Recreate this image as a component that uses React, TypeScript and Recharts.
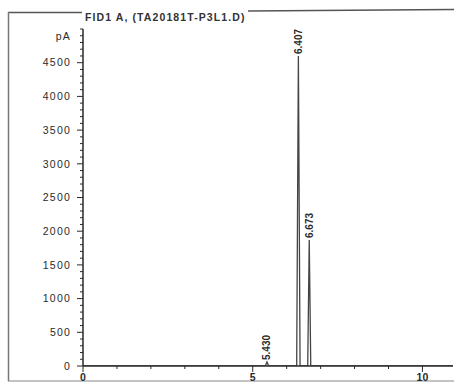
import React from 'react';
import { LineChart, Line, XAxis, YAxis } from 'recharts';

const times = [0, 5.37, 5.42, 5.47, 6.295, 6.345, 6.395, 6.62, 6.665, 6.71, 10.9];
const signal = [0, 0, 60, 0, 0, 4600, 0, 0, 1870, 0, 0];
const peakLabels = ['', '', '5.430', '', '', '6.407', '', '', '6.673', '', ''];

const xMajorTicks = [0, 5, 10];
const xTicks = [0, 1, 2, 3, 4, 5, 6, 7, 8, 9, 10];
const yMajorTicks = [0, 500, 1000, 1500, 2000, 2500, 3000, 3500, 4000, 4500];
const yUnitTick = 4900;
const yUnit = 'pA';
const title = 'FID1 A, (TA20181T-P3L1.D)';

const data = times.map((t, i) => ({ t, v: signal[i], lbl: peakLabels[i] }));
const yTicks: number[] = [];
for (let v = 0; v <= 5000; v += 100) yTicks.push(v);

const FONT = '"Liberation Sans", Arial, sans-serif';
const INK = '#2a2a2a';

const YTick = (props: any) => {
  const { x, y, payload } = props;
  const v = payload.value;
  const major = yMajorTicks.includes(v);
  let label = '';
  if (major) label = String(v);
  if (v === yUnitTick) label = yUnit;
  return (
    <g>
      <line x1={x} x2={x - (major ? 6 : 3)} y1={y} y2={y} stroke={INK} strokeWidth={1} />
      {label && (
        <text x={x - 12} y={y} dy="0.36em" textAnchor="end" fontSize={10.5} letterSpacing={1.2} fontFamily={FONT} fill={INK}>
          {label}
        </text>
      )}
    </g>
  );
};

const XTick = (props: any) => {
  const { x, y, payload } = props;
  const v = payload.value;
  const major = xMajorTicks.includes(v);
  return (
    <g>
      <line x1={x} x2={x} y1={y} y2={y + (major ? 6 : 3)} stroke={INK} strokeWidth={1} />
      {major && (
        <text x={x} y={y + 15} textAnchor="middle" fontSize={10.5} fontWeight="bold" fontFamily={FONT} fill={INK}>
          {String(v)}
        </text>
      )}
    </g>
  );
};

const PeakLabel = (props: any) => {
  const { x, y, index } = props;
  const lbl = data[index] ? data[index].lbl : '';
  if (!lbl) return null;
  const ay = y - 2;
  return (
    <text
      x={x}
      y={ay}
      dy="0.35em"
      transform={`rotate(-90, ${x}, ${ay})`}
      textAnchor="start"
      fontSize={10}
      fontWeight="bold"
      fontFamily={FONT}
      fill={INK}
    >
      {lbl}
    </text>
  );
};

export default function App() {
  return (
    <div style={{ position: 'absolute', left: 0, top: 0, width: 454, height: 383, background: '#fff' }}>
      <svg width={454} height={383} style={{ position: 'absolute', left: 0, top: 0 }}>
        <line x1={8} y1={12.5} x2={82} y2={12.5} stroke="#555" strokeWidth={1.5} />
        <line x1={248} y1={11} x2={454} y2={9.5} stroke="#555" strokeWidth={1.5} />
        <line x1={8.5} y1={12} x2={8.5} y2={381} stroke="#777" strokeWidth={1.5} />
        <line x1={8} y1={381} x2={454} y2={381} stroke="#888" strokeWidth={1} />
        <text x={85} y={21} fontSize={10.5} letterSpacing={1.1} fontWeight="bold" fontFamily={FONT} fill="#333">
          {title}
        </text>
      </svg>
      <div style={{ position: 'absolute', left: 0, top: 0 }}>
        <LineChart width={454} height={383} data={data} margin={{ top: 29, right: 1, bottom: 0, left: 8 }}>
          <XAxis
            dataKey="t"
            type="number"
            domain={[0, 10.9]}
            ticks={xTicks}
            interval={0}
            height={17}
            tickSize={0}
            tickMargin={0}
            tickLine={false}
            axisLine={{ stroke: INK, strokeWidth: 1.5 }}
            tick={<XTick />}
            allowDataOverflow
          />
          <YAxis
            type="number"
            domain={[0, 5000]}
            ticks={yTicks}
            interval={0}
            width={75}
            tickSize={0}
            tickMargin={0}
            tickLine={false}
            axisLine={{ stroke: INK, strokeWidth: 1.5 }}
            tick={<YTick />}
            allowDataOverflow
          />
          <Line
            type="linear"
            dataKey="v"
            stroke="#444"
            strokeWidth={1.3}
            dot={false}
            isAnimationActive={false}
            label={<PeakLabel />}
          />
        </LineChart>
      </div>
    </div>
  );
}
